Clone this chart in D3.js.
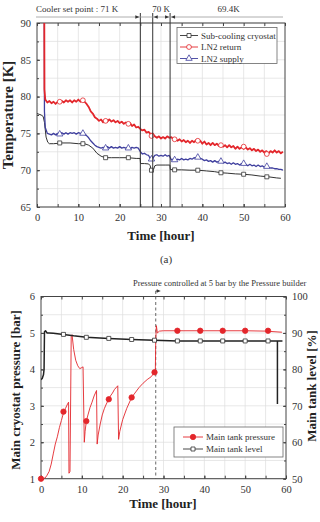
<!DOCTYPE html>
<html>
<head>
<meta charset="utf-8">
<style>
  body { margin: 0; background: #fff; }
  svg { display: block; font-family: "Liberation Serif", "DejaVu Serif", serif; }
  .grid line { stroke: #dedede; stroke-width: 0.7; }
  .axis path { display: none; }
  .axis line { stroke: #444; }
  .axis text { fill: #333; font-size: 10.5px; font-family: "Liberation Serif", serif; }
  .title { font-weight: bold; font-size: 13px; fill: #222; }
  .note { font-size: 9px; fill: #333; }
  .legend text { font-size: 9px; fill: #333; }
</style>
</head>
<body>
<svg width="320" height="522"></svg>
<script src="https://d3js.org/d3.v7.min.js"></script>
<script>
// ---- (a) temperatures ----
var subHours = [0, 0.5, 1, 1.5, 1.8, 2.2, 2.6, 3, 4, 6, 8, 10, 11.5, 12.5, 13.5, 14.5, 15.5, 16.5, 18, 20, 22, 24, 24.95, 25.05, 26, 27, 27.4, 27.6, 28.2, 28.5, 29, 31, 32.15, 32.25, 33, 35, 37, 39, 41, 43, 44.5, 46, 48, 50, 52, 54, 56, 58, 59];
var subTemp = [77.7, 77.6, 77.5, 77.3, 76.5, 74.5, 73.8, 73.6, 73.6, 73.7, 73.7, 73.6, 73.6, 73.4, 73.0, 72.3, 71.9, 71.7, 71.7, 71.7, 71.7, 71.6, 71.6, 70.9, 70.9, 70.85, 70.6, 70.0, 70.1, 70.6, 70.7, 70.7, 70.7, 70.1, 70.05, 70.05, 70.0, 70.0, 69.9, 69.8, 69.65, 69.6, 69.5, 69.45, 69.35, 69.2, 69.1, 68.95, 68.9];

// LN2 lines are logged every half hour from t = 2 h; the start spike comes first
var spikeHours = [1.75, 1.8];
var retSpike = [96, 81];
var supSpike = [96, 78];
var halfHours = d3.range(2, 60, 0.5);
var retTemp = [79.6, 79.2, 79.4, 79.1, 79.3, 79.0, 79.3, 79.2, 79.4, 79.2,
  79.5, 79.3, 79.5, 79.2, 79.5, 79.3, 79.6, 79.3, 79.5, 79.3,
  79.0, 78.6, 78.0, 77.7, 77.2, 77.0, 76.7, 76.9, 76.5, 76.8,
  76.6, 76.9, 76.6, 76.8, 76.5, 76.7, 76.4, 76.6, 76.3, 76.5,
  76.3, 76.4, 76.0, 76.2, 75.8, 75.9, 75.6, 75.4, 75.5, 75.1,
  75.2, 74.9, 75.0, 74.6, 74.4, 74.6, 74.3, 74.5, 74.3, 74.6,
  74.4, 74.5, 74.2, 74.3, 74.0, 74.2, 73.9, 74.1, 73.8, 74.0,
  73.7, 74.0, 73.8, 74.1, 73.9, 74.0, 73.6, 73.9, 73.5, 73.7,
  73.4, 73.7, 73.4, 73.6, 73.3, 73.5, 73.2, 73.4, 73.1, 73.4,
  73.1, 73.3, 72.9, 73.2, 72.9, 73.1, 72.9, 73.1, 72.8, 73.0,
  72.7, 72.9, 72.6, 72.8, 72.5, 72.7, 72.4, 72.6, 72.3, 72.6,
  72.4, 72.7, 72.4, 72.6, 72.3, 72.5];
var supTemp = [75.8, 75.0, 74.9, 74.8, 75.0, 74.8, 75.0, 74.9, 75.1, 74.9,
  75.1, 74.9, 75.1, 75.0, 75.1, 74.9, 75.1, 75.0, 75.0, 74.9,
  74.7, 74.4, 74.0, 73.7, 73.4, 73.2, 73.1, 73.0, 73.1, 73.0,
  73.2, 73.0, 73.2, 73.0, 73.1, 73.0, 73.2, 73.0, 73.1, 73.0,
  73.1, 72.9, 73.1, 73.0, 73.1, 73.0, 72.5, 72.2, 72.3, 72.1,
  72.0, 71.5, 71.6, 72.0, 72.1, 71.9, 72.0, 71.9, 72.1, 71.9,
  72.0, 71.4, 71.5, 71.3, 71.5, 71.4, 71.6, 71.4, 71.5, 71.4,
  71.6, 71.5, 71.7, 71.6, 71.8, 71.6, 71.5, 71.3, 71.4, 71.2,
  71.3, 71.1, 71.3, 71.1, 71.2, 71.2, 71.0, 71.1, 70.9, 71.0,
  70.8, 71.0, 70.8, 70.9, 70.7, 70.9, 70.8, 70.8, 70.6, 70.8,
  70.6, 70.7, 70.5, 70.7, 70.5, 70.6, 70.4, 70.5, 70.4, 70.3,
  70.3, 70.2, 70.2, 70.1, 70.1, 70.0];

var markHours = [5.5, 11.1, 16.6, 22.1, 27.7, 33.3, 38.9, 44.5, 50, 55.6];
var subMarks = [73.7, 73.6, 71.7, 71.7, 70.0, 70.05, 70.0, 69.65, 69.45, 69.1];
var retMarks = [79.3, 79.5, 76.7, 76.3, 74.65, 74.2, 74.0, 73.4, 73.2, 72.2];
var supMarks = [74.9, 75.0, 73.0, 73.0, 71.5, 71.4, 71.75, 71.2, 70.9, 70.5];

var setPointHours = [25, 28, 32.2];

// ---- (b) pressure and level ----
var presHours = [0, 0.5, 1, 1.4, 2, 2.5, 3, 3.5, 4, 4.5, 5, 5.5, 6, 6.5, 6.75, 6.85, 7.1, 7.4, 7.6, 8, 8.5, 9, 9.5, 10, 10.3, 10.6, 10.8, 11.1, 11.5, 12, 12.5, 13, 13.6, 13.75, 14, 14.5, 15, 15.5, 16, 16.6, 17, 17.5, 18, 18.8, 19, 19.3, 20, 21, 22.2, 23, 24, 25, 26, 27, 27.8, 28, 28.1, 28.25, 28.5, 29, 30, 35, 40, 45, 50, 55, 59];
var presBar = [1.0, 1.0, 1.02, 1.08, 1.2, 1.4, 1.68, 1.95, 2.15, 2.4, 2.6, 2.8, 2.93, 3.05, 3.1, 1.15, 1.2, 4.9, 4.95, 4.55, 4.25, 4.1, 4.02, 4.05, 4.07, 2.0, 2.3, 2.58, 2.75, 2.95, 3.1, 3.27, 3.42, 1.95, 2.2, 2.5, 2.75, 2.92, 3.05, 3.18, 3.27, 3.35, 3.45, 3.55, 2.08, 2.3, 2.62, 2.93, 3.23, 3.35, 3.5, 3.62, 3.72, 3.8, 3.92, 3.95, 4.8, 5.2, 5.0, 5.05, 5.06, 5.06, 5.06, 5.06, 5.06, 5.05, 5.02];
var presMarkHours = [0, 5.5, 11.1, 16.6, 22.2, 27.8, 33.4, 39, 44.5, 50, 55.6];
var presMarks = [1.0, 2.84, 2.58, 3.18, 3.23, 3.92, 5.06, 5.06, 5.06, 5.06, 5.06];

var levelHours = [0, 0.3, 0.6, 0.75, 0.85, 1.1, 1.5, 2, 3, 5.5, 8, 11.1, 16.6, 22.2, 27.8, 33.4, 39, 44.5, 50, 55.6, 59, 57.9, 57.9];
var levelPct = [77.2, 77.5, 78.5, 80, 90.3, 90.6, 90.0, 90.0, 89.9, 89.6, 89.2, 88.8, 88.5, 88.2, 88.0, 87.8, 87.8, 87.8, 87.8, 87.8, 87.8, 87.8, 70.5];
var levelMarkHours = [5.5, 11.1, 16.6, 22.2, 27.8, 33.4, 39, 44.5, 50, 55.6];
var levelMarks = [89.6, 88.8, 88.5, 88.2, 88.0, 87.8, 87.8, 87.8, 87.8, 87.8];

var hourTicks = [0, 10, 20, 30, 40, 50, 60];

var svg = d3.select("svg");
var red = "#e3262b", blue = "#3f3f9e", black = "#333";

function zip(xs, ys) { return xs.map(function (x, i) { return [x, ys[i]]; }); }

// frame, grid and inward ticks
function frame(x, y, yTicks, yMinor, id) {
  var x0 = x.range()[0], x1 = x.range()[1], y0 = y.range()[0], y1 = y.range()[1];
  var g = svg.append("g");
  var grid = g.append("g").attr("class", "grid");
  grid.selectAll(".gx").data(d3.range(5, 60, 5)).enter().append("line")
    .attr("x1", x).attr("x2", x).attr("y1", y0).attr("y2", y1);
  grid.selectAll(".gy").data(yMinor).enter().append("line")
    .attr("y1", y).attr("y2", y).attr("x1", x0).attr("x2", x1);

  var minorX = d3.range(0, 61, 5);
  g.append("g").attr("class", "axis").attr("transform", "translate(0," + y0 + ")")
    .call(d3.axisBottom(x).tickValues(hourTicks).tickSize(-3).tickPadding(7));
  g.append("g").attr("class", "axis").attr("transform", "translate(0," + y0 + ")")
    .call(d3.axisBottom(x).tickValues(minorX).tickSize(-3).tickFormat(""));
  g.append("g").attr("class", "axis").attr("transform", "translate(0," + y1 + ")")
    .call(d3.axisTop(x).tickValues(minorX).tickSize(-3).tickFormat(""));
  g.append("g").attr("class", "axis").attr("transform", "translate(" + x0 + ",0)")
    .call(d3.axisLeft(y).tickValues(yTicks).tickSize(-3).tickPadding(6).tickFormat(d3.format("d")));
  g.append("g").attr("class", "axis").attr("transform", "translate(" + x0 + ",0)")
    .call(d3.axisLeft(y).tickValues(yMinor).tickSize(-2).tickFormat(""));

  g.append("rect").attr("x", x0).attr("y", y1).attr("width", x1 - x0).attr("height", y0 - y1)
    .attr("fill", "none").attr("stroke", "#444").attr("stroke-width", 1);

  svg.append("clipPath").attr("id", id).append("rect")
    .attr("x", x0).attr("y", y1).attr("width", x1 - x0).attr("height", y0 - y1);
  return g;
}

function drawLine(pts, x, y, color, width, clip) {
  svg.append("path").datum(pts)
    .attr("clip-path", "url(#" + clip + ")")
    .attr("fill", "none").attr("stroke", color).attr("stroke-width", width)
    .attr("stroke-linejoin", "round")
    .attr("d", d3.line().x(function (d) { return x(d[0]); }).y(function (d) { return y(d[1]); }));
}

function marker(g, shape, cx, cy, color, filled) {
  var s = filled ? 4.6 : 4;
  var sym = shape === "circle" ? d3.symbolCircle : shape === "square" ? d3.symbolSquare : d3.symbolTriangle;
  var size = shape === "circle" ? Math.PI * (s / 2 + 0.4) * (s / 2 + 0.4) : shape === "square" ? s * s : s * s * 1.1;
  g.append("path").attr("transform", "translate(" + cx + "," + cy + ")")
    .attr("d", d3.symbol().type(sym).size(size))
    .attr("fill", filled ? color : "#fff").attr("stroke", color).attr("stroke-width", 0.8);
}

function arrow(px, py, dir) {
  svg.append("path")
    .attr("d", "M" + px + "," + py + "l" + (-4 * dir) + ",-1.8v3.6z")
    .attr("fill", "#333");
}

// ================= (a) =================
var xa = d3.scaleLinear().domain([0, 60]).range([37, 285]);
var ya = d3.scaleLinear().domain([65, 90]).range([207, 23]);
frame(xa, ya, [65, 70, 75, 80, 85, 90], d3.range(65, 90.1, 2.5), "clipA");

drawLine(zip(subHours, subTemp), xa, ya, black, 1, "clipA");
drawLine(zip(spikeHours, supSpike).concat(zip(halfHours, supTemp)), xa, ya, blue, 1.3, "clipA");
drawLine(zip(spikeHours, retSpike).concat(zip(halfHours, retTemp)), xa, ya, red, 1.8, "clipA");

var ma = svg.append("g");
markHours.forEach(function (h, i) {
  marker(ma, "square", xa(h), ya(subMarks[i]), black, false);
  marker(ma, "circle", xa(h), ya(retMarks[i]), red, false);
  marker(ma, "triangle", xa(h), ya(supMarks[i]), blue, false);
});

// cooler set point bands
svg.selectAll(".setp").data(setPointHours).enter().append("line")
  .attr("x1", xa).attr("x2", xa).attr("y1", 13).attr("y2", ya(65))
  .attr("stroke", "#333").attr("stroke-width", 1);
svg.append("line").attr("x1", 36).attr("x2", 283).attr("y1", 17).attr("y2", 17)
  .attr("stroke", "#999").attr("stroke-width", 0.8);
arrow(xa(25) - 1, 17, 1);
arrow(xa(28) + 1, 17, -1);
arrow(xa(32.2) - 1, 17, 1);
arrow(xa(32.2) + 1, 17, -1);
svg.append("text").attr("class", "note").attr("x", 36).attr("y", 12).text("Cooler set point : 71 K");
svg.append("text").attr("class", "note").attr("x", 161).attr("y", 12).attr("text-anchor", "middle").text("70 K");
svg.append("text").attr("class", "note").attr("x", 228.5).attr("y", 12).attr("text-anchor", "middle").text("69.4K");

// legend (a)
var la = svg.append("g").attr("class", "legend");
la.append("rect").attr("x", 177).attr("y", 27.5).attr("width", 100).attr("height", 36)
  .attr("fill", "#fff").attr("stroke", "#666").attr("stroke-width", 0.8);
var legA = [["Sub-cooling cryostat", black, "square"], ["LN2 return", red, "circle"], ["LN2 supply", blue, "triangle"]];
legA.forEach(function (d, i) {
  var ly = 35.5 + i * 11.5;
  la.append("line").attr("x1", 180).attr("x2", 198).attr("y1", ly).attr("y2", ly)
    .attr("stroke", d[1]).attr("stroke-width", 0.9);
  marker(la, d[2], 189, ly, d[1], false);
  la.append("text").attr("x", 201).attr("y", ly + 3).text(d[0]);
});

svg.append("text").attr("class", "title").attr("x", 161).attr("y", 240)
  .attr("text-anchor", "middle").text("Time [hour]");
svg.append("text").attr("class", "title").style("font-size", "15px")
  .attr("transform", "translate(13,115) rotate(-90)").attr("text-anchor", "middle").text("Temperature [K]");
svg.append("text").attr("x", 166).attr("y", 263).attr("text-anchor", "middle")
  .style("font-size", "11px").attr("fill", "#333").text("(a)");

// ================= (b) =================
var xb = d3.scaleLinear().domain([0, 60]).range([41, 286]);
var yb = d3.scaleLinear().domain([1, 6]).range([478.7, 296.5]);
var yr = d3.scaleLinear().domain([50, 100]).range([478.7, 296.5]);
frame(xb, yb, [1, 2, 3, 4, 5, 6], d3.range(1, 6.01, 0.5), "clipB");

svg.append("g").attr("class", "axis").attr("transform", "translate(286,0)")
  .call(d3.axisRight(yr).tickValues([50, 60, 70, 80, 90, 100]).tickSize(-3).tickPadding(6));
svg.append("g").attr("class", "axis").attr("transform", "translate(286,0)")
  .call(d3.axisRight(yr).tickValues(d3.range(50, 101, 5)).tickSize(-2).tickFormat(""));

// pressure builder annotation
svg.append("line").attr("x1", xb(28.1)).attr("x2", xb(28.1)).attr("y1", 291).attr("y2", 478.7)
  .attr("stroke", "#555").attr("stroke-width", 0.9).attr("stroke-dasharray", "3,2.5");
svg.append("line").attr("x1", xb(28.1)).attr("x2", xb(28.1) + 2).attr("y1", 291).attr("y2", 291)
  .attr("stroke", "#333").attr("stroke-width", 0.9);
arrow(xb(28.1) + 5, 291, 1);
svg.append("text").attr("class", "note").style("font-size", "8.5px")
  .attr("x", 133).attr("y", 286).text("Pressure controlled at 5 bar by the Pressure builder");

drawLine(zip(presHours, presBar), xb, yb, red, 0.9, "clipB");
drawLine(zip(levelHours, levelPct), xb, yr, "#222", 1.5, "clipB");

var mb = svg.append("g");
presMarkHours.forEach(function (h, i) { marker(mb, "circle", xb(h), yb(presMarks[i]), red, true); });
levelMarkHours.forEach(function (h, i) { marker(mb, "square", xb(h), yr(levelMarks[i]), black, false); });

// legend (b)
var lb = svg.append("g").attr("class", "legend");
lb.append("rect").attr("x", 174).attr("y", 427).attr("width", 109).attr("height", 30)
  .attr("fill", "#fff").attr("stroke", "#666").attr("stroke-width", 0.8);
var legB = [["Main tank pressure", red, "circle", true], ["Main tank level", black, "square", false]];
legB.forEach(function (d, i) {
  var ly = 437 + i * 12;
  lb.append("line").attr("x1", 183).attr("x2", 203).attr("y1", ly).attr("y2", ly)
    .attr("stroke", d[1]).attr("stroke-width", 0.9);
  marker(lb, d[2], 193, ly, d[1], d[3]);
  lb.append("text").attr("x", 206).attr("y", ly + 3).text(d[0]);
});

svg.append("text").attr("class", "title").attr("x", 163).attr("y", 508)
  .attr("text-anchor", "middle").text("Time [hour]");
svg.append("text").attr("class", "title")
  .attr("transform", "translate(20,390) rotate(-90)").attr("text-anchor", "middle").text("Main cryostat pressure [bar]");
svg.append("text").attr("class", "title")
  .attr("transform", "translate(316,386) rotate(-90)").attr("text-anchor", "middle").text("Main tank level [%]");
</script>
</body>
</html>
